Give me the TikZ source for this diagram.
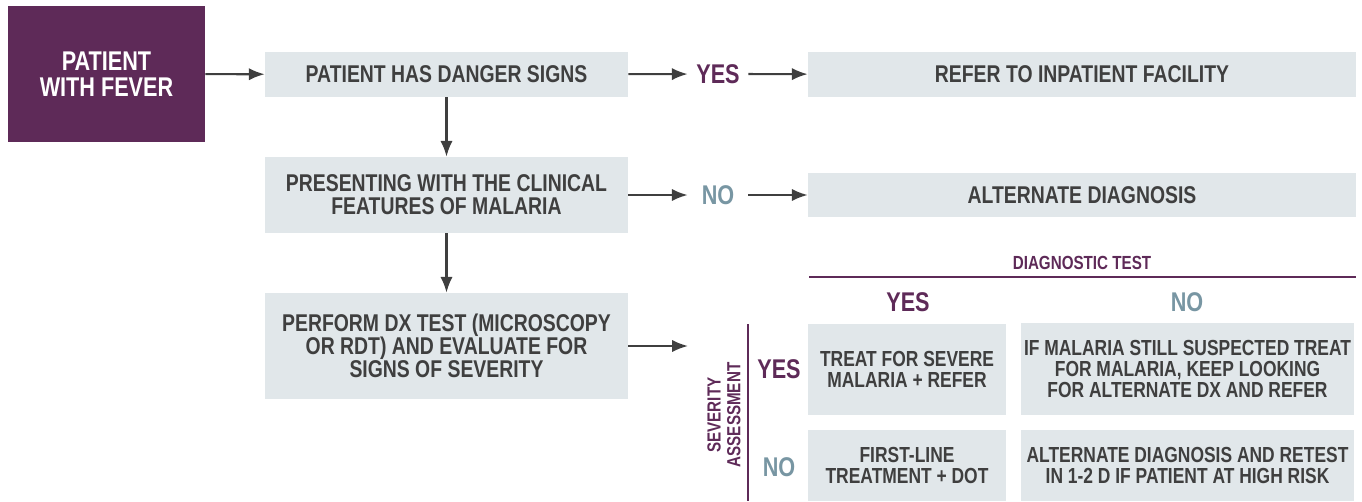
\documentclass[tikz,border=0pt]{standalone}
\usepackage{fontspec}
\setmainfont{Liberation Sans}[FakeStretch=0.8]
\usetikzlibrary{arrows.meta}
\definecolor{plum}{HTML}{5E2A58}
\definecolor{boxgray}{HTML}{E1E7EA}
\definecolor{inkgray}{HTML}{3F3F3F}
\definecolor{nogray}{HTML}{7896A3}
\begin{document}
\begin{tikzpicture}[x=0.02cm, y=-0.02cm, main/.style={fill=boxgray, text=inkgray, align=center, inner sep=0pt, font=\bfseries\fontsize{13.8}{13}\selectfont}, cell/.style={fill=boxgray, text=inkgray, align=center, inner sep=0pt, font=\bfseries\fontsize{12.4}{11.9}\selectfont}, ans/.style={inner sep=0pt, minimum width=1.2cm, font=\bfseries\fontsize{15.4}{16}\selectfont}, n/.style={-{Latex[length=9pt,width=7pt]}, line width=1.2pt, draw=inkgray}]
            \useasboundingbox (0,0) rectangle (1362,501);
            % nodes
            \node[fill=plum, text=white, align=center, minimum width=3.94cm, minimum height=2.72cm, font=\bfseries\fontsize{15.4}{14.8}\selectfont] (fever) at (106.5,74) {PATIENT\\WITH FEVER};
            \node[main, minimum width=7.26cm, minimum height=0.9cm] (danger) at (446.5,74.5) {PATIENT HAS DANGER SIGNS};
            \node[ans, text=plum] (yes1) at (718,74) {YES};
            \node[main, minimum width=10.96cm, minimum height=0.9cm] (refer) at (1082,74.5) {REFER TO INPATIENT FACILITY};
            \node[main, minimum width=7.26cm, minimum height=1.52cm] (clinical) at (446.5,195) {PRESENTING WITH THE CLINICAL\\FEATURES OF MALARIA};
            \node[ans, text=nogray] (no1) at (718,195) {NO};
            \node[main, minimum width=10.96cm, minimum height=0.88cm] (altdx) at (1082,195) {ALTERNATE DIAGNOSIS};
            \node[main, minimum width=7.26cm, minimum height=2.12cm] (perform) at (446.5,346) {PERFORM DX TEST (MICROSCOPY\\OR RDT) AND EVALUATE FOR\\SIGNS OF SEVERITY};
            \coordinate (sev) at (688,346);
            % matrix
            \node[text=plum, font=\bfseries\fontsize{10.8}{11}\selectfont] (dxtest) at (1082,263) {DIAGNOSTIC TEST};
            \coordinate (dxl) at (809,277);
            \coordinate (dxr) at (1356,277);
            \node[ans, text=plum] (dxyes) at (908,302) {YES};
            \node[ans, text=nogray] (dxno) at (1187,302) {NO};
            \node[rotate=90, text=plum, align=center, font=\bfseries\fontsize{10.8}{11.3}\selectfont] (sevlab) at (724,415) {SEVERITY\\ASSESSMENT};
            \coordinate (sevt) at (748,324);
            \coordinate (sevb) at (748,501);
            \node[ans, text=plum] (svyes) at (779,369) {YES};
            \node[ans, text=nogray] (svno) at (779,467) {NO};
            \node[cell, minimum width=3.96cm, minimum height=1.82cm] (c11) at (907,369.5) {TREAT FOR SEVERE\\MALARIA + REFER};
            \node[cell, minimum width=6.68cm, minimum height=1.84cm] (c12) at (1187.5,369) {IF MALARIA STILL SUSPECTED TREAT\\FOR MALARIA, KEEP LOOKING\\FOR ALTERNATE DX AND REFER};
            \node[cell, minimum width=3.96cm, minimum height=1.42cm] (c21) at (907,465.5) {FIRST-LINE\\TREATMENT + DOT};
            \node[cell, minimum width=6.68cm, minimum height=1.42cm] (c22) at (1187.5,465.5) {ALTERNATE DIAGNOSIS AND RETEST\\IN 1-2 D IF PATIENT AT HIGH RISK};
            % edges
            \draw [n] (fever) -- (danger);
            \draw [n] (danger) -- (yes1);
            \draw [n] (yes1) -- (refer);
            \draw [n] (danger) -- (clinical);
            \draw [n] (clinical) -- (no1);
            \draw [n] (no1) -- (altdx);
            \draw [n] (clinical) -- (perform);
            \draw [n] (perform.east |- sev) -- (sev);
            \draw [plum, line width=1.5pt] (dxl) -- (dxr);
            \draw [plum, line width=1.5pt] (sevt) -- (sevb);
        \end{tikzpicture}
\end{document}
